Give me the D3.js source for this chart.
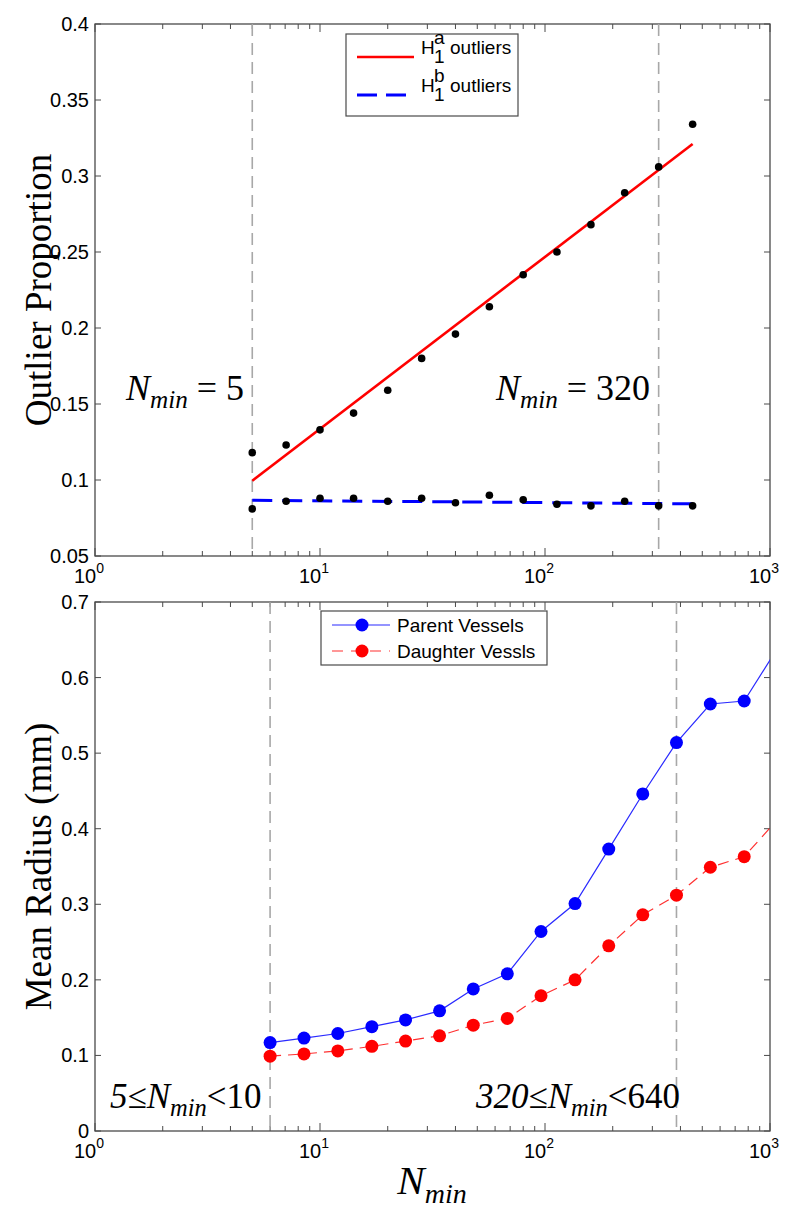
<!DOCTYPE html>
<html lang="en">
  <head>
    <meta charset="utf-8">
    <title>Outliers and mean radius</title>
    <script src="https://d3js.org/d3.v7.min.js"></script>
    <style>
      body { margin: 0; background: #fff; }
      svg text { fill: #000; }
      .tick-label { font-family: "Liberation Sans", Arial, sans-serif; font-size: 20px; }
      .legend-label { font-family: "Liberation Sans", Arial, sans-serif; font-size: 19px; }
      .serif { font-family: "Liberation Serif", "Times New Roman", serif; }
    </style>
  </head>
  <body>
    <div id="main"></div>
    <script>
      // Data
      const topX = [5, 7.07, 10, 14.1, 20, 28.3, 40, 56.6, 80, 113, 160, 226, 320, 453];
      const outliersA = [0.118, 0.123, 0.133, 0.144, 0.159, 0.180, 0.196, 0.214, 0.235, 0.250, 0.268, 0.289, 0.306, 0.334];
      const outliersB = [0.081, 0.086, 0.088, 0.088, 0.086, 0.088, 0.085, 0.090, 0.087, 0.084, 0.083, 0.086, 0.083, 0.083];
      const fitX = [5, 453];
      const fitA = [0.0995, 0.321];
      const fitB = [0.0867, 0.0843];
      const topMarks = [5, 320];
      const topTicks = [0.05, 0.1, 0.15, 0.2, 0.25, 0.3, 0.35, 0.4];

      const botX = [6, 8.49, 12, 17, 24, 34, 48, 68, 96, 136, 192, 272, 384, 543, 768, 1086];
      const parent = [0.117, 0.123, 0.129, 0.138, 0.147, 0.159, 0.188, 0.208, 0.264, 0.301, 0.373, 0.446, 0.514, 0.565, 0.569, 0.64];
      const daughter = [0.099, 0.102, 0.106, 0.112, 0.119, 0.126, 0.140, 0.149, 0.179, 0.200, 0.245, 0.286, 0.312, 0.349, 0.363, 0.413];
      const botMarks = [6, 384];
      const botTicks = [0, 0.1, 0.2, 0.3, 0.4, 0.5, 0.6, 0.7];
      const decades = [1, 10, 100, 1000];

      const W = 800, H = 1213;
      const svg = d3.select('#main').append('svg')
        .attr('width', W).attr('height', H);

      const x = d3.scaleLog().domain([1, 1000]).range([95, 770]);
      const yTop = d3.scaleLinear().domain([0.05, 0.4]).range([556, 24]);
      const yBot = d3.scaleLinear().domain([0, 0.7]).range([1131, 602]);

      const minor = [];
      decades.slice(0, 3).forEach(d => { for (let k = 2; k < 10; k++) minor.push(d * k); });

      const axisColor = '#4a4a4a';

      function frame(y, ticks, fmt, id) {
        const [y0, y1] = y.range();
        const g = svg.append('g');

        // y ticks, inside, both sides
        ticks.forEach(t => {
          g.append('line').attr('x1', 95).attr('x2', 101).attr('y1', y(t)).attr('y2', y(t))
            .attr('stroke', axisColor);
          g.append('line').attr('x1', 770).attr('x2', 764).attr('y1', y(t)).attr('y2', y(t))
            .attr('stroke', axisColor);
          g.append('text').attr('class', 'tick-label')
            .attr('x', 89).attr('y', y(t) + 7)
            .attr('text-anchor', 'end')
            .text(fmt(t));
        });

        // log ticks top and bottom
        decades.forEach(d => {
          [[y0, -8], [y1, 8]].forEach(([yy, len]) => {
            g.append('line').attr('x1', x(d)).attr('x2', x(d)).attr('y1', yy).attr('y2', yy + len)
              .attr('stroke', axisColor);
          });
        });
        minor.forEach(d => {
          [[y0, -5], [y1, 5]].forEach(([yy, len]) => {
            g.append('line').attr('x1', x(d)).attr('x2', x(d)).attr('y1', yy).attr('y2', yy + len)
              .attr('stroke', axisColor);
          });
        });

        decades.forEach((d, i) => {
          const t = g.append('text').attr('class', 'tick-label')
            .attr('x', x(d) - 6).attr('y', y0 + 27)
            .attr('text-anchor', 'middle');
          t.append('tspan').text('10');
          t.append('tspan').attr('dy', -10).attr('font-size', 14).text(i);
        });

        g.append('rect')
          .attr('x', 95).attr('y', y1).attr('width', 675).attr('height', y0 - y1)
          .attr('fill', 'none').attr('stroke', axisColor).attr('stroke-width', 1.3);

        svg.append('clipPath').attr('id', id)
          .append('rect').attr('x', 95).attr('y', y1).attr('width', 675).attr('height', y0 - y1);
        return g;
      }

      function vmarks(y, marks) {
        const [y0, y1] = y.range();
        svg.append('g').selectAll('line').data(marks).join('line')
          .attr('x1', d => x(d)).attr('x2', d => x(d))
          .attr('y1', y1).attr('y2', y0)
          .attr('stroke', '#a8a8a8').attr('stroke-width', 1.6)
          .attr('stroke-dasharray', '12,7');
      }

      function nmin(gx, gy, size, pre, post, preItalic) {
        const t = svg.append('text').attr('class', 'serif').attr('x', gx).attr('y', gy)
          .attr('font-size', size);
        if (pre) t.append('tspan').attr('font-style', preItalic ? 'italic' : 'normal').text(pre);
        t.append('tspan').attr('font-style', 'italic').text('N');
        t.append('tspan').attr('font-style', 'italic').attr('font-size', size * 0.7)
          .attr('dy', size * 0.22).text('min');
        if (post) t.append('tspan').attr('dy', -size * 0.22).text(post);
        return t;
      }

      // ---------- Top panel ----------
      frame(yTop, topTicks, d => String(d), 'clipTop');
      vmarks(yTop, topMarks);

      const lineTop = d3.line().x(d => x(d[0])).y(d => yTop(d[1]));
      svg.append('path').datum(d3.zip(fitX, fitA)).attr('d', lineTop)
        .attr('fill', 'none').attr('stroke', '#ff0000').attr('stroke-width', 2.6);
      svg.append('path').datum(d3.zip(fitX, fitB)).attr('d', lineTop)
        .attr('fill', 'none').attr('stroke', '#0000ff').attr('stroke-width', 3)
        .attr('stroke-dasharray', '20,10');

      [outliersA, outliersB].forEach(vals => {
        svg.append('g').selectAll('circle').data(d3.zip(topX, vals)).join('circle')
          .attr('cx', d => x(d[0])).attr('cy', d => yTop(d[1])).attr('r', 3.8)
          .attr('fill', '#000');
      });

      // legend top
      const lgTop = svg.append('g');
      lgTop.append('rect').attr('x', 346).attr('y', 34).attr('width', 172).attr('height', 82)
        .attr('fill', '#fff').attr('stroke', axisColor).attr('stroke-width', 1.2);
      lgTop.append('line').attr('x1', 357).attr('x2', 414).attr('y1', 57).attr('y2', 57)
        .attr('stroke', '#ff0000').attr('stroke-width', 2.6);
      lgTop.append('line').attr('x1', 357).attr('x2', 414).attr('y1', 95).attr('y2', 95)
        .attr('stroke', '#0000ff').attr('stroke-width', 3).attr('stroke-dasharray', '20,9');
      [['a', 54], ['b', 92]].forEach(([s, yy]) => {
        lgTop.append('text').attr('class', 'legend-label').attr('x', 421).attr('y', yy).text('H');
        lgTop.append('text').attr('class', 'legend-label').attr('x', 434).attr('y', yy - 10)
          .attr('font-size', 13).text(s);
        lgTop.append('text').attr('class', 'legend-label').attr('x', 434).attr('y', yy + 9)
          .attr('font-size', 13).text('1');
        lgTop.append('text').attr('class', 'legend-label').attr('x', 450).attr('y', yy).text('outliers');
      });

      // annotations top
      nmin(126, 400, 36, null, ' = 5');
      nmin(496, 400, 36, null, ' = 320');

      svg.append('text').attr('class', 'serif')
        .attr('transform', `translate(51,${(yTop.range()[0] + yTop.range()[1]) / 2}) rotate(-90)`)
        .attr('text-anchor', 'middle').attr('font-size', 37)
        .text('Outlier Proportion');

      // ---------- Bottom panel ----------
      frame(yBot, botTicks, d => String(d), 'clipBot');
      vmarks(yBot, botMarks);

      const lineBot = d3.line().x(d => x(d[0])).y(d => yBot(d[1]));
      const gData = svg.append('g').attr('clip-path', 'url(#clipBot)');
      gData.append('path').datum(d3.zip(botX, daughter)).attr('d', lineBot)
        .attr('fill', 'none').attr('stroke', '#ff3030').attr('stroke-width', 1.2)
        .attr('stroke-dasharray', '11,7');
      gData.append('path').datum(d3.zip(botX, parent)).attr('d', lineBot)
        .attr('fill', 'none').attr('stroke', '#2a2aff').attr('stroke-width', 1.2);
      gData.append('g').selectAll('circle').data(d3.zip(botX, daughter)).join('circle')
        .attr('cx', d => x(d[0])).attr('cy', d => yBot(d[1])).attr('r', 6.5).attr('fill', '#ff0000');
      gData.append('g').selectAll('circle').data(d3.zip(botX, parent)).join('circle')
        .attr('cx', d => x(d[0])).attr('cy', d => yBot(d[1])).attr('r', 6.5).attr('fill', '#0000ff');

      // legend bottom
      const lgBot = svg.append('g');
      lgBot.append('rect').attr('x', 321).attr('y', 611).attr('width', 226).attr('height', 54)
        .attr('fill', '#fff').attr('stroke', axisColor).attr('stroke-width', 1.2);
      [['Parent Vessels', '#2a2aff', '#0000ff', null, 625], ['Daughter Vessls', '#ff3030', '#ff0000', '11,8', 651]]
        .forEach(([label, lc, mc, dash, yy]) => {
          lgBot.append('line').attr('x1', 332).attr('x2', 390).attr('y1', yy).attr('y2', yy)
            .attr('stroke', lc).attr('stroke-width', 1.2).attr('stroke-dasharray', dash);
          lgBot.append('circle').attr('cx', 362).attr('cy', yy).attr('r', 6.5).attr('fill', mc);
          lgBot.append('text').attr('class', 'legend-label').attr('x', 397).attr('y', yy + 7).text(label);
        });

      // annotations bottom
      nmin(110, 1108, 35, '5≤', '<10', true);
      nmin(476, 1108, 35, '320≤', '<640', true);

      svg.append('text').attr('class', 'serif')
        .attr('transform', `translate(51,${(yBot.range()[0] + yBot.range()[1]) / 2}) rotate(-90)`)
        .attr('text-anchor', 'middle').attr('font-size', 37)
        .text('Mean Radius (mm)');

      // x label
      const xl = svg.append('text').attr('class', 'serif').attr('x', 432).attr('y', 1194)
        .attr('text-anchor', 'middle').attr('font-size', 41).attr('font-style', 'italic');
      xl.append('tspan').text('N');
      xl.append('tspan').attr('font-size', 28).attr('dy', 9).text('min');
    </script>
  </body>
</html>
